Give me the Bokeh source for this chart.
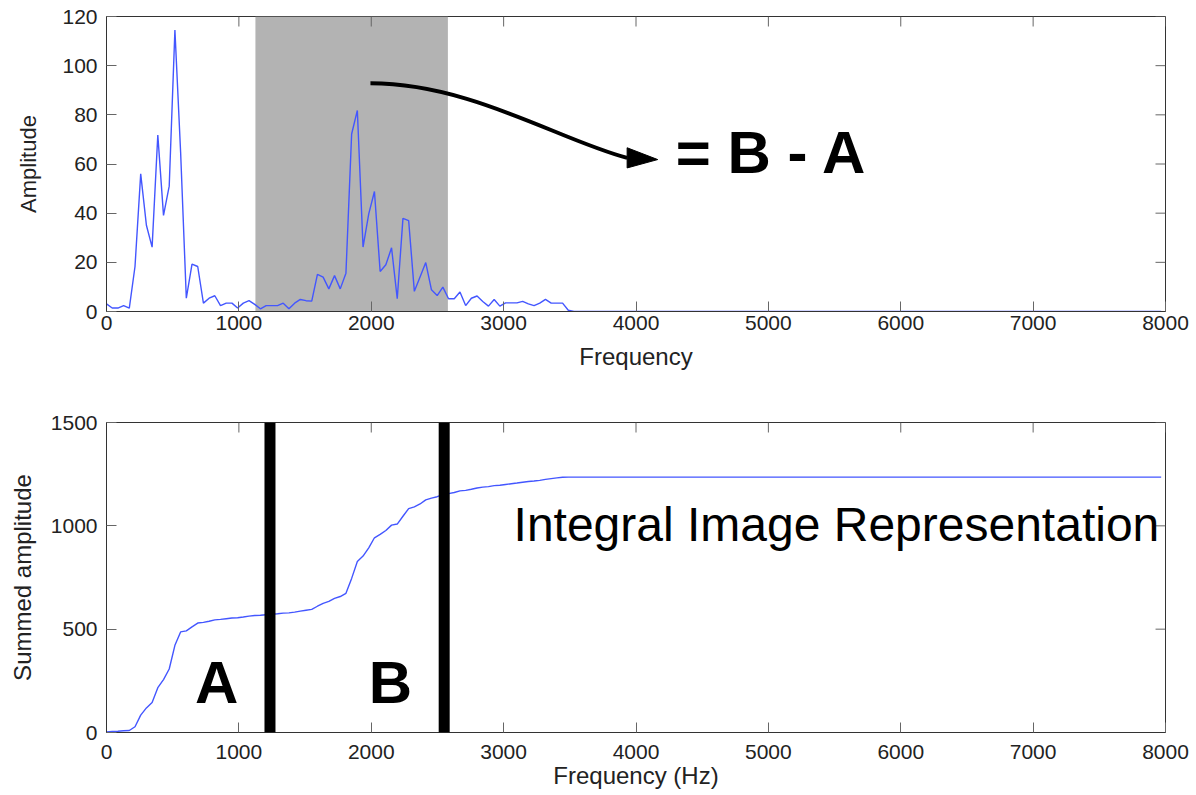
from bokeh.plotting import figure
from bokeh.models import BoxAnnotation, Span, Label, Range1d, FixedTicker
from bokeh.layouts import column
from bokeh.embed import file_html
from bokeh.resources import INLINE
import numpy as np

# ---------------- data ----------------
BIN_HZ = 44100 / 1024          # FFT bin spacing
AMPLITUDE = [                   # spectrum amplitude for bins 0..82
    3.1, 1.4, 1.4, 2.4, 1.4, 18.3, 56.0, 35.1, 26.2, 71.8,
    39.1, 51.0, 114.5, 64.9, 5.4, 19.3, 18.3, 3.4, 5.4, 6.4,
    2.4, 3.4, 3.4, 1.4, 3.4, 4.4, 2.9, 1.1, 2.4, 2.4,
    2.4, 3.4, 1.1, 3.4, 4.9, 4.4, 4.2, 15.1, 14.0, 9.2,
    14.6, 9.2, 15.6, 72.2, 81.8, 26.2, 39.7, 48.8, 16.3, 19.0,
    25.9, 5.2, 37.9, 37.0, 8.2, 14.0, 19.9, 8.8, 6.5, 9.9,
    5.2, 5.2, 7.9, 2.4, 5.4, 6.3, 4.1, 2.2, 4.9, 2.2,
    3.5, 3.5, 3.5, 4.1, 3.1, 2.4, 3.4, 4.9, 3.4, 3.4,
    3.4, 0.5, 0.0,
]
LAST_BIN = 185                  # spectrum stays at 0 up to this bin
LAST_AMPLITUDE = 0.0

X_TICKS = [0, 1000, 2000, 3000, 4000, 5000, 6000, 7000, 8000]
AMP_TICKS = [0, 20, 40, 60, 80, 100, 120]
SUM_TICKS = [0, 500, 1000, 1500]

BAND_HZ = (1125, 2579)          # shaded window in the spectrum
BAR_HZ = [1235, 2551]           # A / B cut positions on the integral

# arrow annotation (data units of the top chart)
ARROW_START = (1994, 92.8)
ARROW_CTRL1 = (2749, 92.8)
ARROW_CTRL2 = (3429, 69.5)
ARROW_END = (3933, 62.5)
ARROW_TIP = (4164, 61.8)
ARROW_HALF_WIDTH = 4.1

bins = list(range(len(AMPLITUDE))) + [LAST_BIN]
amps = AMPLITUDE + [LAST_AMPLITUDE]
freq = [b * BIN_HZ for b in bins]
summed = list(np.cumsum(amps))

FONT = "Liberation Sans"
LINE_BLUE = "#4356ff"
AXIS_COL = "#333333"
TICK_COL = "#666666"
TEXT_COL = "#222222"
TICK_PX = 10


def style_axis(ax, ticks, standoff):
    ax.ticker = FixedTicker(ticks=ticks)
    ax.major_tick_in = TICK_PX
    ax.major_tick_out = 0
    ax.minor_tick_line_color = None
    ax.axis_line_color = AXIS_COL
    ax.major_tick_line_color = TICK_COL
    ax.major_label_text_font = FONT
    ax.major_label_text_font_size = "21px"
    ax.major_label_text_color = TEXT_COL
    ax.major_label_standoff = standoff
    ax.axis_label_text_font = FONT
    ax.axis_label_text_font_style = "normal"
    ax.axis_label_text_font_size = "24px"
    ax.axis_label_text_color = TEXT_COL


def box_ticks(p, xmax, ymax, frame_w, frame_h, yticks):
    """Inward ticks on the top and right edges of the frame (MATLAB box)."""
    ty = TICK_PX * ymax / frame_h
    tx = TICK_PX * xmax / frame_w
    p.segment(x0=X_TICKS, y0=[ymax] * len(X_TICKS),
              x1=X_TICKS, y1=[ymax - ty] * len(X_TICKS),
              line_color=TICK_COL, line_width=1)
    p.segment(x0=[xmax] * len(yticks), y0=yticks,
              x1=[xmax - tx] * len(yticks), y1=yticks,
              line_color=TICK_COL, line_width=1)


# ---------------- top: spectrum ----------------
W1, H1 = 1196, 400
L1, R1, T1, B1 = 106, 31, 16, 89
p1 = figure(width=W1, height=H1, output_backend="svg", toolbar_location=None,
            x_range=Range1d(0, 8000), y_range=Range1d(0, 120),
            min_border_left=L1, min_border_right=R1,
            min_border_top=T1, min_border_bottom=B1)
p1.grid.visible = False
p1.outline_line_color = AXIS_COL

p1.add_layout(BoxAnnotation(left=BAND_HZ[0], right=BAND_HZ[1],
                            fill_color="#b3b3b3", fill_alpha=1.0,
                            line_color=None, level="underlay"))
p1.line(freq, amps, line_color=LINE_BLUE, line_width=1.4)
box_ticks(p1, 8000, 120, W1 - L1 - R1, H1 - T1 - B1, AMP_TICKS)

p1.bezier(x0=[ARROW_START[0]], y0=[ARROW_START[1]],
          x1=[ARROW_END[0]], y1=[ARROW_END[1]],
          cx0=[ARROW_CTRL1[0]], cy0=[ARROW_CTRL1[1]],
          cx1=[ARROW_CTRL2[0]], cy1=[ARROW_CTRL2[1]],
          line_color="black", line_width=4)
p1.patch([ARROW_END[0], ARROW_TIP[0], ARROW_END[0]],
         [ARROW_END[1] + ARROW_HALF_WIDTH, ARROW_TIP[1], ARROW_END[1] - ARROW_HALF_WIDTH],
         fill_color="black", line_color="black")
p1.add_layout(Label(x=4301, y=64.5, text="= B - A", text_font=FONT,
                    text_font_size="60px", text_font_style="bold",
                    text_color="black", text_align="left",
                    text_baseline="alphabetic"))

style_axis(p1.xaxis[0], X_TICKS, standoff=4)
style_axis(p1.yaxis[0], AMP_TICKS, standoff=9)
p1.xaxis.axis_label = "Frequency"
p1.xaxis.axis_label_standoff = 10
p1.yaxis.axis_label = "Amplitude"
p1.yaxis.axis_label_standoff = 18
p1.yaxis.axis_label_text_font_size = "22px"

# ---------------- bottom: integral ----------------
W2, H2 = 1196, 395
L2, R2, T2, B2 = 105, 27, 22, 63
p2 = figure(width=W2, height=H2, output_backend="svg", toolbar_location=None,
            x_range=Range1d(0, 8000), y_range=Range1d(0, 1500),
            min_border_left=L2, min_border_right=R2,
            min_border_top=T2, min_border_bottom=B2)
p2.grid.visible = False
p2.outline_line_color = AXIS_COL

p2.line(freq, summed, line_color=LINE_BLUE, line_width=1.4)
box_ticks(p2, 8000, 1500, W2 - L2 - R2, H2 - T2 - B2, SUM_TICKS)
for hz in BAR_HZ:
    p2.add_layout(Span(location=hz, dimension="height",
                       line_color="black", line_width=11))

p2.add_layout(Label(x=669, y=240, text="A", text_font=FONT,
                    text_font_size="60px", text_font_style="bold",
                    text_color="black", text_baseline="alphabetic"))
p2.add_layout(Label(x=1982, y=240, text="B", text_font=FONT,
                    text_font_size="60px", text_font_style="bold",
                    text_color="black", text_baseline="alphabetic"))
p2.add_layout(Label(x=3075, y=1005, text="Integral Image Representation",
                    text_font=FONT, text_font_size="48px",
                    text_color="black", text_baseline="alphabetic"))

style_axis(p2.xaxis[0], X_TICKS, standoff=12)
style_axis(p2.yaxis[0], SUM_TICKS, standoff=9)
p2.xaxis.axis_label = "Frequency (Hz)"
p2.xaxis.axis_label_standoff = 0
p2.yaxis.axis_label = "Summed amplitude"
p2.yaxis.axis_label_standoff = 12

layout = column(p1, p2, spacing=0)
open("out.html", "w").write(file_html(layout, INLINE))
